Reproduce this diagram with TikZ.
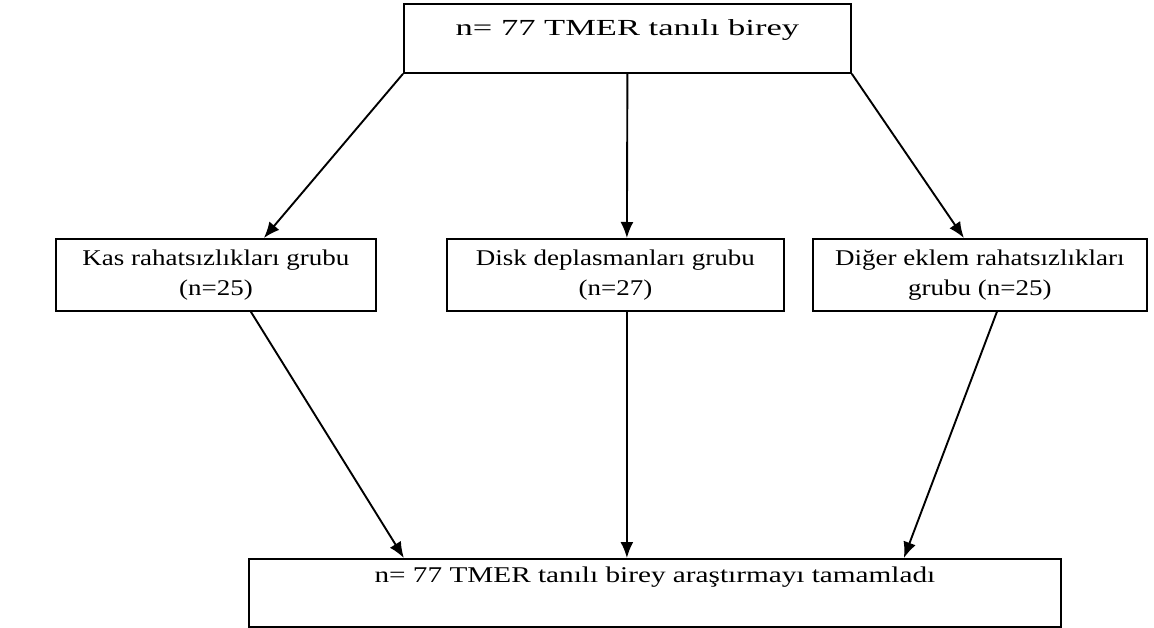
\documentclass[tikz,border=0pt]{standalone}
\usepackage{fontspec}
\setmainfont{Liberation Serif}
\newfontfamily\topfont[FakeStretch=1.5]{Liberation Serif}
\newfontfamily\grpfont[FakeStretch=1.2]{Liberation Serif}
\newfontfamily\endfont[FakeStretch=1.3]{Liberation Serif}
\usetikzlibrary{arrows.meta}

\begin{document}
\begin{tikzpicture}[x=1pt,y=-1pt]
    \tikzstyle{box}       = [draw,line width=1.8pt,inner sep=0pt,anchor=north west]
    \tikzstyle{group box} = [box,align=center,minimum height=72pt,
                             font=\grpfont\fontsize{22.5}{30}\selectfont]
    \tikzstyle{edge}      = [-{Latex[length=16pt,width=13pt]},black,line width=1.9pt]

    \useasboundingbox (0,0) rectangle (1154,628);

    \node[box,minimum width=447pt,text height=32pt,text depth=37pt,
          font=\topfont\fontsize{23}{28}\selectfont]
          (top) at (403,3)   {n= 77 TMER tanılı birey};

    \node[group box,minimum width=320pt] (g1) at (55,238)
          {Kas rahatsızlıkları grubu\\(n=25)};
    \node[group box,minimum width=337pt] (g2) at (446,238)
          {Disk deplasmanları grubu\\(n=27)};
    \node[group box,minimum width=334pt] (g3) at (812,238)
          {Diğer eklem rahatsızlıkları\\grubu (n=25)};

    \node[box,minimum width=812pt,text height=24pt,text depth=44pt,
          font=\endfont\fontsize{22.5}{28}\selectfont]
          (bottom) at (248,558) {n= 77 TMER tanılı birey araştırmayı tamamladı};

    \draw[edge] (top.south west)           -- ([xshift=48pt]g1.north);
    \draw[edge] (top.south)                -- ([xshift=11.5pt]g2.north);
    \draw[edge] (top.south east)           -- ([xshift=-16pt]g3.north);

    \draw[edge] ([xshift=35pt]g1.south)    -- ([xshift=-251pt]bottom.north);
    \draw[edge] ([xshift=11.5pt]g2.south)  -- ([xshift=-28pt]bottom.north);
    \draw[edge] ([xshift=17pt]g3.south)    -- ([xshift=249pt]bottom.north);
\end{tikzpicture}
\end{document}
